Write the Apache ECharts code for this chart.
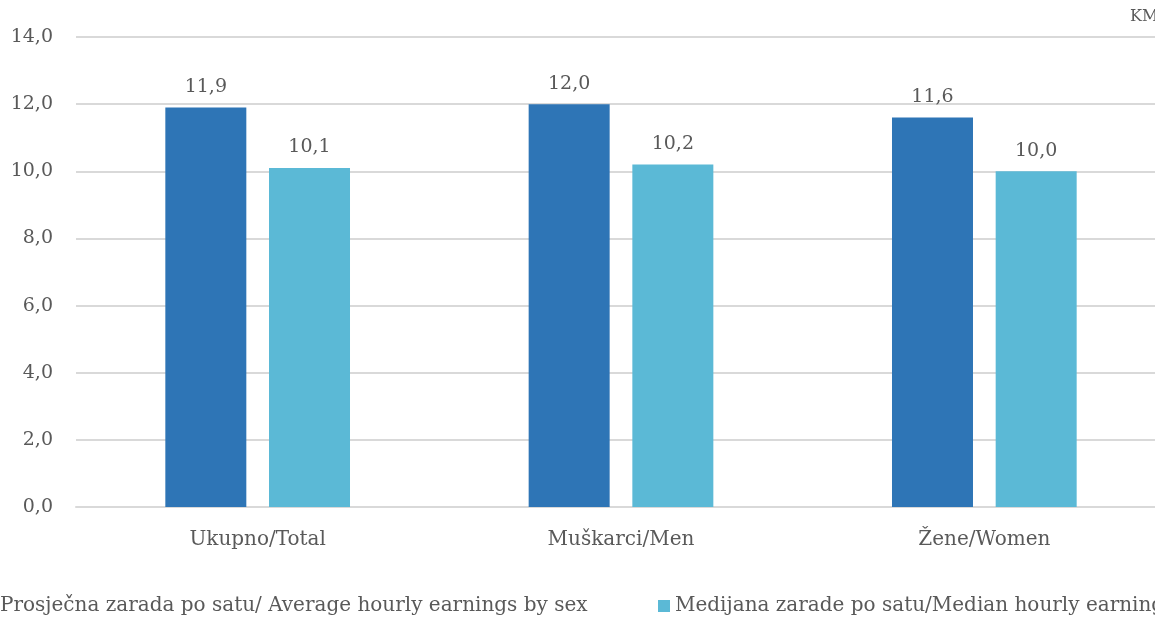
<!DOCTYPE html>
<html><head><meta charset="utf-8">
<script src="https://cdn.jsdelivr.net/npm/echarts@6/dist/echarts.min.js"></script>
<style>html,body{margin:0;padding:0;overflow:hidden;width:1155px;height:624px;background:#fff}
#c{position:absolute;left:-20px;top:0;width:1200px;height:624px}</style>
</head><body><div id="c"></div>
<script>
const categories = ['Ukupno/Total', 'Muškarci/Men', 'Žene/Women'];
const seriesNames = ['Prosječna zarada po satu/ Average hourly earnings by sex', 'Medijana zarade po satu/Median hourly earnings by sex'];
const averageValues = [11.9, 12.0, 11.6];
const medianValues = [10.1, 10.2, 10.0];
const unitLabel = 'KM';

const FONT = 'DejaVu Serif';
const TXT = '#595959';
const fmt = v => v.toFixed(1).replace('.', ',');
const chart = echarts.init(document.getElementById('c'));
chart.setOption({
  animation: false,
  textStyle: { fontFamily: FONT },
  grid: { left: 96, top: 37, width: 1090, height: 470, containLabel: false },
  graphic: [{ type: 'text', left: 1150, top: 9, style: { text: unitLabel, font: '16px ' + FONT, fill: TXT } }],
  legend: [
    { data: [seriesNames[0]], left: 3, top: 596, padding: 0, itemWidth: 12, itemHeight: 12, itemGap: 5,
      textStyle: { fontFamily: FONT, fontSize: 20, color: TXT }, icon: 'rect' },
    { data: [seriesNames[1]], left: 678, top: 596, padding: 0, itemWidth: 12, itemHeight: 12, itemGap: 5,
      textStyle: { fontFamily: FONT, fontSize: 20, color: TXT }, icon: 'rect' }
  ],
  xAxis: { type: 'category', data: categories,
    axisLine: { lineStyle: { color: '#D9D9D9', width: 2 } }, axisTick: { show: false },
    axisLabel: { color: TXT, fontFamily: FONT, fontSize: 20, margin: 23 } },
  yAxis: { type: 'value', min: 0, max: 14, interval: 2,
    axisLine: { show: false }, axisTick: { show: false },
    splitLine: { lineStyle: { color: '#D9D9D9', width: 2 } },
    axisLabel: { color: TXT, fontFamily: FONT, fontSize: 19, margin: 23, formatter: v => fmt(v) } },
  series: [
    { name: seriesNames[0], type: 'bar', data: averageValues, barWidth: 81, barGap: '28%',
      itemStyle: { color: '#2E75B6' },
      label: { show: true, position: 'top', distance: 11, color: TXT, fontFamily: FONT, fontSize: 19, formatter: p => fmt(p.value) } },
    { name: seriesNames[1], type: 'bar', data: medianValues, barWidth: 81,
      itemStyle: { color: '#5BB9D6' },
      label: { show: true, position: 'top', distance: 11, color: TXT, fontFamily: FONT, fontSize: 19, formatter: p => fmt(p.value) } }
  ]
});
</script></body></html>
